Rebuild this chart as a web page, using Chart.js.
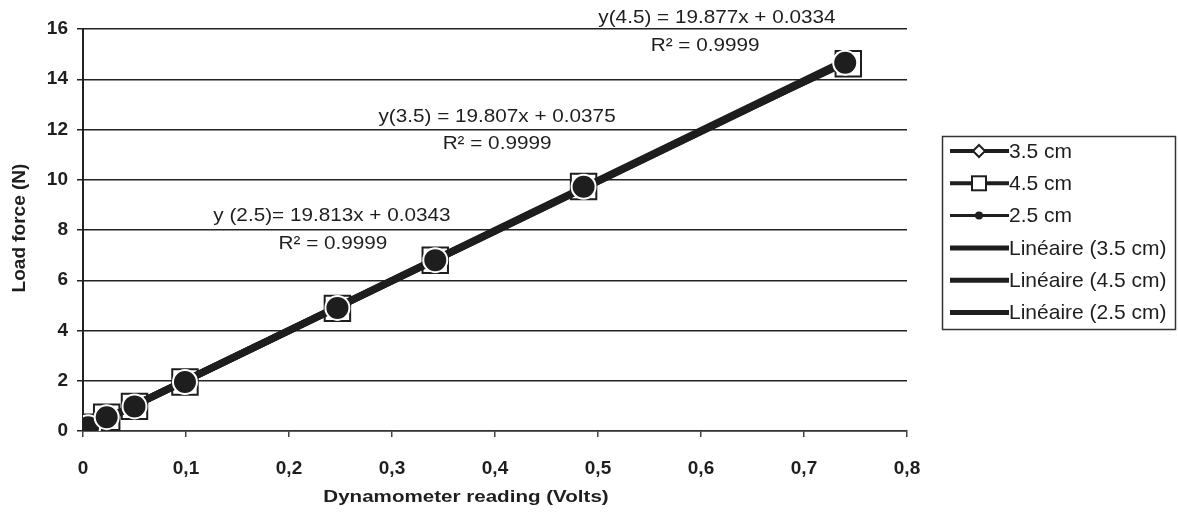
<!DOCTYPE html>
<html>
<head>
<meta charset="utf-8">
<script src="https://cdn.jsdelivr.net/npm/chart.js@4/dist/chart.umd.min.js"></script>
<style>
  html, body { margin: 0; padding: 0; background: #fff; }
  #wrap { width: 1178px; height: 512px; }
</style>
</head>
<body>
<div id="wrap"><canvas id="chart" width="1178" height="512"></canvas></div>
<script>
// Data
const readings = [0.005, 0.023, 0.050, 0.099, 0.247, 0.342, 0.486, 0.740];
const force35 = [0.14, 0.52, 1.00, 1.97, 4.90, 6.82, 9.70, 14.68];
const force45 = [0.15, 0.55, 0.98, 1.95, 4.88, 6.80, 9.73, 14.62];
const force25 = [0.15, 0.55, 0.98, 1.95, 4.90, 6.80, 9.72, 14.66];
const readings45 = [0.005, 0.023, 0.050, 0.099, 0.247, 0.342, 0.486, 0.743];

const trendX = [0.005, 0.741];
const trend35 = [0.13, 14.71];
const trend45 = [0.13, 14.76];
const trend25 = [0.13, 14.72];

const seriesNames = ['3.5 cm', '4.5 cm', '2.5 cm', 'Linéaire (3.5 cm)', 'Linéaire (4.5 cm)', 'Linéaire (2.5 cm)'];
const equations = ['y(4.5) = 19.877x + 0.0334', 'R² = 0.9999',
                   'y(3.5) = 19.807x + 0.0375', 'R² = 0.9999',
                   'y (2.5)= 19.813x + 0.0343', 'R² = 0.9999'];
// where each equation label sits, in axis units
const eqX = [0.6155, 0.604, 0.402, 0.402, 0.2417, 0.2427];
const eqY = [16.44, 15.32, 12.50, 11.43, 8.57, 7.45];

const xTitle = 'Dynamometer reading (Volts)';
const yTitle = 'Load force (N)';

const INK = '#1e1e1e';
const FONT = '"Liberation Sans", Arial, sans-serif';

function pts(xs, ys) {
  return xs.map((v, i) => ({ x: v, y: ys[i] }));
}

// text stretched sideways a bit, like the scanned original
function wideText(ctx, text, x, y, sx) {
  ctx.save();
  ctx.translate(x, y);
  ctx.scale(sx, 1);
  ctx.fillText(text, 0, 0);
  ctx.restore();
}

// titles, equations and the boxed legend
const extras = {
  id: 'extras',
  afterDraw(chart) {
    const ctx = chart.ctx;
    const x = chart.scales.x, y = chart.scales.y;
    ctx.save();
    ctx.fillStyle = INK;
    ctx.textAlign = 'center';
    ctx.textBaseline = 'middle';

    ctx.font = '19px ' + FONT;
    equations.forEach((t, i) => {
      wideText(ctx, t, x.getPixelForValue(eqX[i]), y.getPixelForValue(eqY[i]), 1.09);
    });

    ctx.font = 'bold 17px ' + FONT;
    wideText(ctx, xTitle, 466, 497, 1.21);
    ctx.save();
    ctx.font = 'bold 19px ' + FONT;
    ctx.translate(20, 228);
    ctx.rotate(-Math.PI / 2);
    ctx.fillText(yTitle, 0, 0);
    ctx.restore();

    // legend
    ctx.strokeStyle = '#333';
    ctx.lineWidth = 1.5;
    ctx.strokeRect(942.5, 136.5, 233, 193);
    ctx.font = '21px ' + FONT;
    ctx.textAlign = 'left';
    seriesNames.forEach((name, i) => {
      const cy = 151 + i * 32.3;
      ctx.strokeStyle = INK;
      ctx.lineWidth = i < 2 ? 4 : (i === 2 ? 3 : 5);
      ctx.beginPath();
      ctx.moveTo(950, cy);
      ctx.lineTo(1009, cy);
      ctx.stroke();
      ctx.lineWidth = 2;
      if (i === 0) {
        ctx.fillStyle = '#fff';
        ctx.beginPath();
        ctx.moveTo(979, cy - 6); ctx.lineTo(985, cy); ctx.lineTo(979, cy + 6); ctx.lineTo(973, cy);
        ctx.closePath();
        ctx.fill(); ctx.stroke();
      } else if (i === 1) {
        ctx.fillStyle = '#fff';
        ctx.fillRect(972, cy - 7, 14, 14);
        ctx.strokeRect(972, cy - 7, 14, 14);
      } else if (i === 2) {
        ctx.fillStyle = INK;
        ctx.beginPath();
        ctx.arc(979, cy, 4, 0, Math.PI * 2);
        ctx.fill();
      }
      ctx.fillStyle = INK;
      ctx.fillText(name, 1009, cy + 1);
    });
    ctx.restore();
  }
};

new Chart(document.getElementById('chart'), {
  type: 'scatter',
  data: {
    datasets: [
      {
        label: seriesNames[1],
        data: pts(readings45, force45),
        showLine: true,
        borderColor: INK,
        borderWidth: 3,
        pointStyle: 'rect',
        pointRadius: 18,
        pointBackgroundColor: '#fff',
        pointBorderColor: INK,
        pointBorderWidth: 2,
        order: 4
      },
      {
        label: seriesNames[0],
        data: pts(readings, force35),
        showLine: true,
        borderColor: INK,
        borderWidth: 3,
        pointStyle: 'rectRot',
        pointRadius: 10,
        pointBackgroundColor: '#fff',
        pointBorderColor: INK,
        pointBorderWidth: 2,
        order: 3
      },
      {
        label: seriesNames[3],
        data: pts(trendX, trend35),
        showLine: true,
        borderColor: INK,
        borderWidth: 7,
        pointRadius: 0,
        order: 2
      },
      {
        label: seriesNames[4],
        data: pts(trendX, trend45),
        showLine: true,
        borderColor: INK,
        borderWidth: 7,
        pointRadius: 0,
        order: 2
      },
      {
        label: seriesNames[5],
        data: pts(trendX, trend25),
        showLine: true,
        borderColor: INK,
        borderWidth: 7,
        pointRadius: 0,
        order: 2
      },
      {
        label: seriesNames[2],
        data: pts(readings, force25),
        showLine: true,
        borderColor: INK,
        borderWidth: 3,
        pointStyle: 'circle',
        pointRadius: 12,
        pointBackgroundColor: INK,
        pointBorderColor: '#fff',
        pointBorderWidth: 2,
        order: 0
      }
    ]
  },
  options: {
    responsive: false,
    animation: false,
    layout: { padding: { top: 29, right: 271, left: 0, bottom: 0 } },
    plugins: {
      legend: { display: false },
      tooltip: { enabled: false }
    },
    scales: {
      x: {
        type: 'linear',
        min: 0,
        max: 0.8,
        afterFit(scale) { scale.height = 81; },
        ticks: {
          stepSize: 0.1,
          padding: 20,
          color: INK,
          font: { family: FONT, size: 19, weight: 'bold' },
          callback: v => Number(v.toFixed(1)).toString().replace('.', ',')
        },
        grid: { drawOnChartArea: false, drawTicks: true, tickLength: 6, color: '#444', lineWidth: 1.5 },
        border: { display: true, color: '#333', width: 1.5 }
      },
      y: {
        min: 0,
        max: 16,
        afterFit(scale) { scale.width = 83; },
        ticks: {
          stepSize: 2,
          padding: 9,
          color: INK,
          font: { family: FONT, size: 19, weight: 'bold' }
        },
        grid: { color: '#222', lineWidth: 1.5, tickLength: 6 },
        border: { display: true, color: '#222', width: 2 }
      }
    }
  },
  plugins: [extras]
});
</script>
</body>
</html>
